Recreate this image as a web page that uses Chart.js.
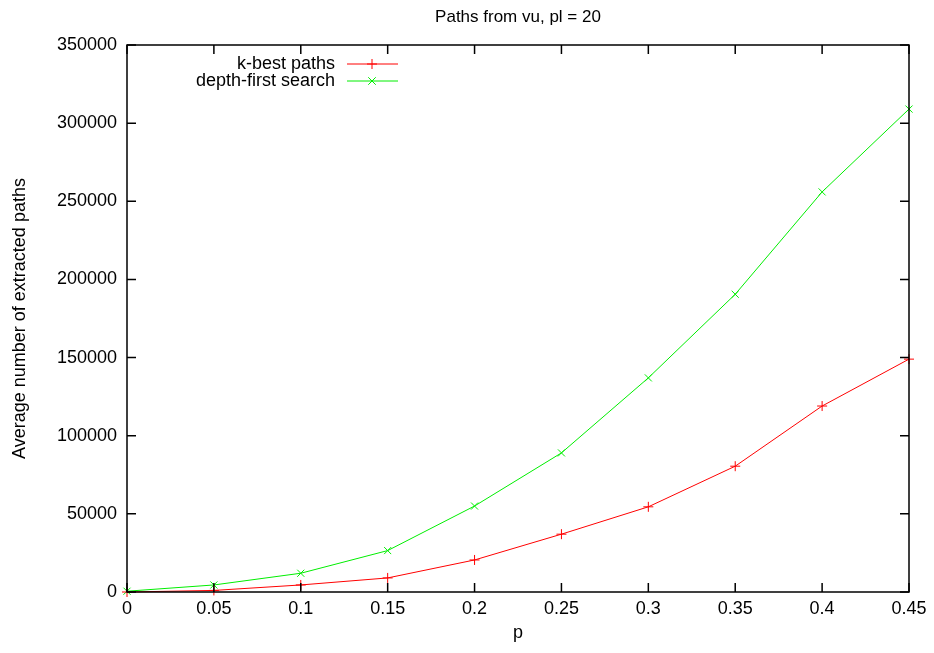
<!DOCTYPE html>
<html>
<head>
<meta charset="utf-8">
<script src="https://cdn.jsdelivr.net/npm/chart.js@4"></script>
<style>
  html, body { margin: 0; padding: 0; background: #fff; }
  #wrap { width: 934px; height: 653px; }
</style>
</head>
<body>
<div id="wrap"><canvas id="c" width="934" height="653"></canvas></div>
<script>
// data
const pValues = [0, 0.05, 0.1, 0.15, 0.2, 0.25, 0.3, 0.35, 0.4, 0.45];
const kBest = [0, 1000, 4500, 9000, 20500, 37000, 54500, 80500, 119000, 149000];
const dfs = [500, 4500, 12000, 26500, 55000, 89000, 137000, 190500, 256000, 309000];
const seriesNames = ['k-best paths', 'depth-first search'];
const titleText = 'Paths from vu, pl = 20';

const FONT = '"Liberation Sans", Arial, sans-serif';

// frame, inward mirrored ticks, title, gnuplot-like key
const gnuFrame = {
  id: 'gnuFrame',
  afterDraw(chart) {
    const ctx = chart.ctx;
    const a = chart.chartArea;
    const xs = chart.scales.x, ys = chart.scales.y;
    ctx.save();
    ctx.strokeStyle = '#000';
    ctx.lineWidth = 1.5;
    ctx.strokeRect(a.left, a.top, a.right - a.left, a.bottom - a.top);
    ctx.beginPath();
    xs.ticks.forEach((t, i) => {
      const x = xs.getPixelForTick(i);
      ctx.moveTo(x, a.bottom); ctx.lineTo(x, a.bottom - 9);
      ctx.moveTo(x, a.top); ctx.lineTo(x, a.top + 9);
    });
    ys.ticks.forEach((t, i) => {
      const y = ys.getPixelForTick(i);
      ctx.moveTo(a.left, y); ctx.lineTo(a.left + 9, y);
      ctx.moveTo(a.right, y); ctx.lineTo(a.right - 9, y);
    });
    ctx.stroke();

    // title
    ctx.fillStyle = '#000';
    ctx.font = '17px ' + FONT;
    ctx.textAlign = 'center';
    ctx.textBaseline = 'middle';
    ctx.fillText(titleText, (a.left + a.right) / 2, 17);

    // key
    ctx.font = '18px ' + FONT;
    ctx.textAlign = 'right';
    chart.data.datasets.forEach((ds, i) => {
      const y = 64 + i * 17;
      ctx.fillStyle = '#000';
      ctx.fillText(ds.label, 335, y);
      ctx.strokeStyle = ds.borderColor;
      ctx.lineWidth = 1;
      ctx.beginPath();
      ctx.moveTo(347, y); ctx.lineTo(398, y);
      const r = 5;
      if (i === 0) {
        ctx.moveTo(372 - r, y); ctx.lineTo(372 + r, y);
        ctx.moveTo(372, y - r); ctx.lineTo(372, y + r);
      } else {
        const d = r * 0.75;
        ctx.moveTo(372 - d, y - d); ctx.lineTo(372 + d, y + d);
        ctx.moveTo(372 - d, y + d); ctx.lineTo(372 + d, y - d);
      }
      ctx.stroke();
    });
    ctx.restore();
  }
};

new Chart(document.getElementById('c'), {
  type: 'line',
  data: {
    datasets: [
      {
        label: seriesNames[0],
        data: pValues.map((p, i) => ({ x: p, y: kBest[i] })),
        borderColor: '#ff0000',
        backgroundColor: '#ff0000',
        borderWidth: 1,
        pointStyle: 'cross',
        pointRadius: 5,
        pointBorderWidth: 1,
        tension: 0,
        clip: false
      },
      {
        label: seriesNames[1],
        data: pValues.map((p, i) => ({ x: p, y: dfs[i] })),
        borderColor: '#00ee00',
        backgroundColor: '#00ee00',
        borderWidth: 1,
        pointStyle: 'crossRot',
        pointRadius: 5,
        pointBorderWidth: 1,
        tension: 0,
        clip: false
      }
    ]
  },
  options: {
    responsive: false,
    animation: false,
    layout: { padding: { top: 45, right: 25, left: 0, bottom: 0 } },
    plugins: { legend: { display: false }, title: { display: false }, tooltip: { enabled: false } },
    scales: {
      x: {
        type: 'linear',
        min: 0, max: 0.45,
        grid: { display: false, drawTicks: false },
        border: { display: false },
        ticks: {
          stepSize: 0.05, padding: 6, color: '#000',
          font: { family: FONT, size: 18 },
          callback: v => String(Number(v.toFixed(2)))
        },
        title: { display: true, text: 'p', color: '#000', font: { family: FONT, size: 18 }, padding: { top: 4, bottom: 9 } },
        afterFit(s) { s.height = 61; }
      },
      y: {
        min: 0, max: 350000,
        grid: { display: false, drawTicks: false },
        border: { display: false },
        ticks: {
          stepSize: 50000, padding: 10, color: '#000',
          font: { family: FONT, size: 18 },
          callback: v => String(v)
        },
        title: { display: true, text: 'Average number of extracted paths', color: '#000', font: { family: FONT, size: 18 }, padding: { top: 9, bottom: 0 } },
        afterFit(s) { s.width = 127; }
      }
    }
  },
  plugins: [gnuFrame]
});
</script>
</body>
</html>
